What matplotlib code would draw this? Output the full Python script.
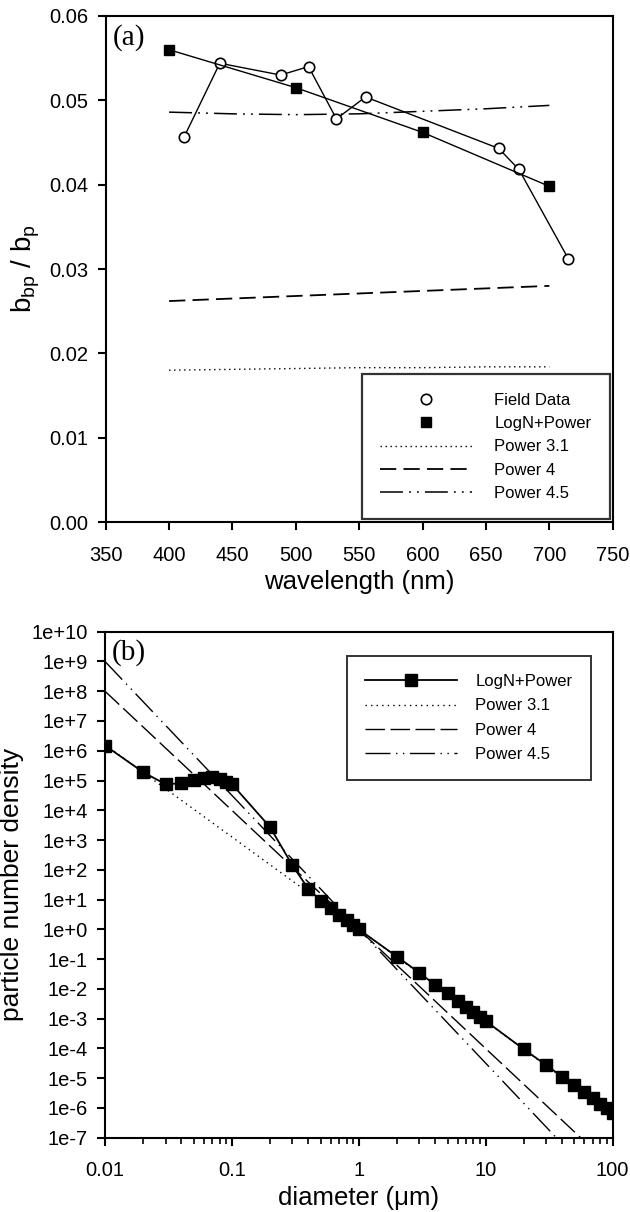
import numpy as np
import matplotlib.pyplot as plt
from matplotlib.ticker import FixedLocator, FixedFormatter, FormatStrFormatter, LogLocator, NullFormatter

plt.rcParams['font.family'] = ['Liberation Sans', 'DejaVu Sans']
plt.rcParams['mathtext.fontset'] = 'custom'
plt.rcParams['mathtext.rm'] = 'Liberation Sans'
plt.rcParams['mathtext.it'] = 'Liberation Sans:italic'

# panel (a): backscattering ratio vs wavelength
field_wl = [412, 440, 488, 510, 532, 555, 660, 676, 715]
field_ratio = [0.0457, 0.0544, 0.0530, 0.0540, 0.0478, 0.0504, 0.0443, 0.0418, 0.0312]
model_wl = [400, 500, 600, 700]
logn_ratio = [0.0560, 0.0515, 0.0462, 0.0398]
curve_wl = [400, 450, 500, 550, 600, 650, 700]
power31_ratio = [0.0180, 0.0181, 0.0182, 0.0183, 0.0183, 0.0184, 0.0184]
power4_ratio = [0.0262, 0.0265, 0.0268, 0.0271, 0.0274, 0.0277, 0.0280]
power45_ratio = [0.0486, 0.0484, 0.0483, 0.0484, 0.0487, 0.0490, 0.0494]

# panel (b): particle size distributions
diam = [0.01, 0.02, 0.03, 0.04, 0.05, 0.06, 0.07, 0.08, 0.09, 0.1, 0.2, 0.3, 0.4, 0.5,
        0.6, 0.7, 0.8, 0.9, 1, 2, 3, 4, 5, 6, 7, 8, 9, 10, 20, 30, 40, 50, 60, 70, 80, 90, 100]
logn_density = [1.5e6, 1.9e5, 7.5e4, 8.1e4, 1.05e5, 1.25e5, 1.35e5, 1.13e5, 9.2e4, 7.6e4,
                2.7e3, 1.4e2, 23, 9.2, 5.1, 3.0, 2.05, 1.4, 1.0, 0.12, 0.035, 0.0135,
                7.1e-3, 4.0e-3, 2.5e-3, 1.7e-3, 1.17e-3, 8.3e-4, 9.3e-5, 2.75e-5, 1.12e-5,
                5.9e-6, 3.4e-6, 2.1e-6, 1.35e-6, 1.0e-6, 6.9e-7]
power31_d = [0.01, 100]
power31_n = [1.6e6, 6.3e-7]
power4_d = [0.01, 56]
power4_n = [1e8, 1e-7]
power45_d = [0.01, 36]
power45_n = [1e9, 1e-7]

ytick_b = [1e-7, 1e-6, 1e-5, 1e-4, 1e-3, 1e-2, 1e-1, 1e0, 1e1, 1e2, 1e3, 1e4, 1e5, 1e6, 1e7, 1e8, 1e9, 1e10]
ytick_b_labels = ['1e-7', '1e-6', '1e-5', '1e-4', '1e-3', '1e-2', '1e-1', '1e+0', '1e+1', '1e+2',
                  '1e+3', '1e+4', '1e+5', '1e+6', '1e+7', '1e+8', '1e+9', '1e+10']
xtick_b = [0.01, 0.1, 1, 10, 100]
xtick_b_labels = ['0.01', '0.1', '1', '10', '100']

fig = plt.figure(figsize=(6.3, 12.12), dpi=100)
ax1 = fig.add_axes([0.1678, 0.5693, 0.8048, 0.4175])
ax2 = fig.add_axes([0.1667, 0.0613, 0.8057, 0.4175])

dot = (0, (1, 2.6))
dash = (0, (9, 4))
dashdotdot = (0, (15, 4, 1.2, 4, 1.2, 4))

# ---- panel a ----
ax1.plot(curve_wl, power31_ratio, color='k', lw=1.0, linestyle=dot)
ax1.plot(curve_wl, power4_ratio, color='k', lw=1.3, linestyle=dash)
ax1.plot(curve_wl, power45_ratio, color='k', lw=1.1, linestyle=dashdotdot)
ax1.plot(field_wl, field_ratio, color='k', lw=1.0, marker='o', ms=7.5, mfc='white', mec='k', mew=1.2)
ax1.plot(model_wl, logn_ratio, color='k', lw=1.0, marker='s', ms=7.5, mfc='k', mec='k')

ax1.set_xlim(350, 750)
ax1.set_ylim(0, 0.06)
ax1.xaxis.set_major_locator(FixedLocator(list(range(350, 751, 50))))
ax1.yaxis.set_major_locator(FixedLocator([0, 0.01, 0.02, 0.03, 0.04, 0.05, 0.06]))
ax1.yaxis.set_major_formatter(FormatStrFormatter('%.2f'))
ax1.set_xlabel('wavelength (nm)', fontsize=18.5, labelpad=4)
ax1.set_ylabel(r'b$_{\mathrm{bp}}$ / b$_{\mathrm{p}}$', fontsize=20, labelpad=5)
ax1.text(0.014, 0.985, '(a)', transform=ax1.transAxes, family='Liberation Serif',
         fontsize=21, va='top', ha='left')

h_field = plt.Line2D([], [], ls='none', marker='o', ms=7.5, mfc='white', mec='k', mew=1.2)
h_logn = plt.Line2D([], [], ls='none', marker='s', ms=7.5, mfc='k', mec='k')
h31 = plt.Line2D([], [], color='k', lw=1.0, linestyle=dot)
h4 = plt.Line2D([], [], color='k', lw=1.3, linestyle=dash)
h45 = plt.Line2D([], [], color='k', lw=1.1, linestyle=dashdotdot)
leg1 = ax1.legend([h_field, h_logn, h31, h4, h45],
                  ['Field Data', 'LogN+Power', 'Power 3.1', 'Power 4', 'Power 4.5'],
                  loc='lower right', bbox_to_anchor=(0.994, 0.005), borderaxespad=0,
                  fontsize=12, frameon=True, fancybox=False, edgecolor='k',
                  handlelength=5.5, handletextpad=1.35, labelspacing=0.5, borderpad=1.1)
leg1.get_frame().set_linewidth(1.6)

# ---- panel b ----
ax2.plot(power31_d, power31_n, color='k', lw=1.0, linestyle=(0, (1, 3)))
ax2.plot(power4_d, power4_n, color='k', lw=1.0, linestyle=(0, (14, 4)))
ax2.plot(power45_d, power45_n, color='k', lw=1.0, linestyle=(0, (18, 4, 1, 4, 1, 4)))
ax2.plot(diam, logn_density, color='k', lw=1.3, marker='s', ms=8, mfc='k', mec='k')

ax2.set_xscale('log')
ax2.set_yscale('log')
ax2.set_xlim(0.01, 100)
ax2.set_ylim(1e-7, 1e10)
ax2.xaxis.set_major_locator(FixedLocator(xtick_b))
ax2.xaxis.set_major_formatter(FixedFormatter(xtick_b_labels))
ax2.xaxis.set_minor_locator(LogLocator(base=10, subs=np.arange(2, 10)))
ax2.xaxis.set_minor_formatter(NullFormatter())
ax2.yaxis.set_major_locator(FixedLocator(ytick_b))
ax2.yaxis.set_major_formatter(FixedFormatter(ytick_b_labels))
ax2.yaxis.set_minor_locator(FixedLocator([]))
ax2.set_xlabel('diameter (μm)', fontsize=18.5, labelpad=4)
ax2.set_ylabel('particle number density', fontsize=19, labelpad=5)
ax2.text(0.014, 0.985, '(b)', transform=ax2.transAxes, family='Liberation Serif',
         fontsize=21, va='top', ha='left')

hb_logn = plt.Line2D([], [], color='k', lw=1.3, marker='s', ms=8, mfc='k', mec='k')
hb31 = plt.Line2D([], [], color='k', lw=1.0, linestyle=(0, (1, 3)))
hb4 = plt.Line2D([], [], color='k', lw=1.0, linestyle=(0, (14, 4)))
hb45 = plt.Line2D([], [], color='k', lw=1.0, linestyle=(0, (18, 4, 1, 4, 1, 4)))
leg2 = ax2.legend([hb_logn, hb31, hb4, hb45], ['LogN+Power', 'Power 3.1', 'Power 4', 'Power 4.5'],
                  loc='upper left', bbox_to_anchor=(0.477, 0.952), borderaxespad=0,
                  fontsize=12, frameon=True, fancybox=False, edgecolor='k',
                  handlelength=5.5, handletextpad=1.1, labelspacing=0.55, borderpad=1.1)
leg2.get_frame().set_linewidth(1.4)

for ax in (ax1, ax2):
    for side in ('left', 'bottom', 'top', 'right'):
        ax.spines[side].set_linewidth(1.5)
    ax.tick_params(which='major', direction='out', length=6, width=1.5, labelsize=14.5,
                   top=False, right=False)
    ax.tick_params(axis='y', which='major', pad=6.5)
    ax.tick_params(axis='x', which='major', pad=11)
    ax.tick_params(which='minor', direction='out', length=4, width=1.2, top=False, right=False)

fig.savefig('out.png', dpi=100)
